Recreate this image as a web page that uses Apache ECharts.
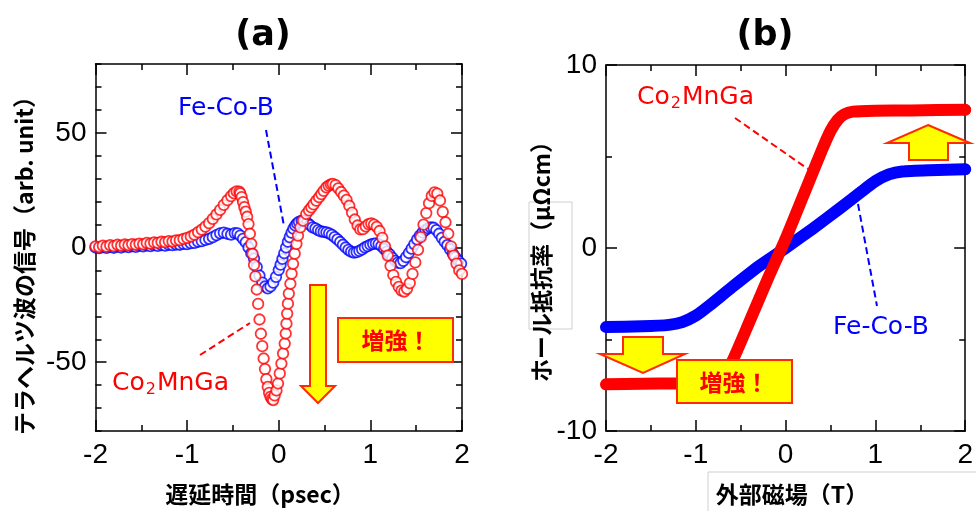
<!DOCTYPE html>
<html>
<head>
<meta charset="utf-8">
<script src="https://cdn.jsdelivr.net/npm/echarts/dist/echarts.min.js"></script>
<style>
html,body{margin:0;padding:0;background:#fff}
#chart{width:976px;height:511px}
</style>
</head>
<body>
<div id="chart"></div>
<script>
// (a) テラヘルツ波の信号 : [遅延時間 psec, 信号 arb. unit]
var feCoB_a = [
  [-2.00,0.0],[-1.96,-0.3],[-1.92,0.2],[-1.88,-0.2],[-1.84,0.3],[-1.80,-0.1],[-1.76,0.4],[-1.72,0.0],
  [-1.68,0.5],[-1.64,0.2],[-1.60,0.6],[-1.56,0.3],[-1.52,0.8],[-1.48,0.5],[-1.44,0.9],[-1.40,0.6],
  [-1.36,1.0],[-1.32,0.7],[-1.28,1.1],[-1.24,0.8],[-1.20,1.2],[-1.16,1.0],[-1.12,1.3],[-1.08,1.2],
  [-1.04,1.6],[-1.00,1.5],[-0.96,1.9],[-0.92,2.0],[-0.88,2.5],[-0.84,2.8],[-0.80,3.3],[-0.76,3.8],
  [-0.72,4.5],[-0.68,5.4],[-0.64,6.2],[-0.60,6.5],[-0.56,6.0],[-0.52,5.6],[-0.48,6.3],[-0.45,6.2],
  [-0.42,5.2],[-0.39,3.8],[-0.36,2.3],[-0.33,0.0],[-0.30,-2.5],[-0.27,-4.8],[-0.24,-8.5],[-0.21,-12.3],
  [-0.18,-15.3],[-0.15,-17.0],[-0.12,-17.8],[-0.09,-17.0],[-0.06,-15.3],[-0.03,-12.8],[0.00,-9.8],
  [0.02,-7.5],[0.04,-5.0],[0.06,-2.5],[0.08,0.0],[0.10,2.5],[0.12,4.5],[0.14,6.5],[0.16,8.2],
  [0.18,9.6],[0.20,10.5],[0.22,11.2],[0.25,11.7],[0.28,11.5],[0.31,10.8],[0.34,9.8],[0.37,8.8],
  [0.40,8.3],[0.43,7.6],[0.46,7.0],[0.49,6.8],[0.52,6.6],[0.55,6.2],[0.58,5.5],[0.61,4.5],
  [0.64,3.5],[0.67,2.4],[0.70,1.2],[0.73,0.0],[0.76,-1.0],[0.79,-1.8],[0.82,-2.2],[0.85,-2.0],
  [0.88,-1.5],[0.91,-0.8],[0.94,0.0],[0.97,0.6],[1.00,1.2],[1.03,1.6],[1.06,1.8],[1.09,1.5],
  [1.12,0.6],[1.15,-0.6],[1.18,-1.8],[1.21,-3.0],[1.24,-4.5],[1.27,-5.8],[1.30,-6.6],[1.33,-6.8],
  [1.36,-5.8],[1.39,-4.2],[1.42,-2.4],[1.45,-0.5],[1.48,1.5],[1.51,3.5],[1.54,5.2],[1.57,6.6],
  [1.60,7.6],[1.63,8.4],[1.66,8.8],[1.69,8.6],[1.72,7.6],[1.75,6.0],[1.78,4.2],[1.81,2.5],
  [1.84,1.0],[1.87,-0.8],[1.90,-2.7],[1.93,-4.3],[1.96,-5.8],[1.99,-7.0]
];
var co2MnGa_a = [
  [-2.00,0.5],[-1.96,0.2],[-1.92,0.8],[-1.88,0.4],[-1.84,1.0],[-1.80,0.6],[-1.76,1.2],[-1.72,0.8],
  [-1.68,1.3],[-1.64,1.0],[-1.60,1.5],[-1.56,1.2],[-1.52,1.7],[-1.48,1.4],[-1.44,2.0],[-1.40,1.7],
  [-1.36,2.2],[-1.32,2.0],[-1.28,2.5],[-1.24,2.3],[-1.20,2.8],[-1.16,2.6],[-1.12,3.1],[-1.08,3.2],
  [-1.04,3.7],[-1.00,4.2],[-0.96,4.8],[-0.92,5.6],[-0.88,6.7],[-0.84,7.8],[-0.80,9.1],[-0.76,10.6],
  [-0.72,12.5],[-0.68,14.4],[-0.64,16.4],[-0.60,18.6],[-0.56,20.6],[-0.52,22.4],[-0.49,23.7],[-0.46,24.5],
  [-0.43,24.3],[-0.42,23.6],[-0.405,22.0],[-0.39,19.8],[-0.375,17.6],[-0.36,15.6],[-0.345,13.4],[-0.33,10.2],
  [-0.315,6.0],[-0.30,1.6],[-0.285,-2.8],[-0.27,-7.6],[-0.255,-12.6],[-0.24,-18.3],[-0.225,-24.6],[-0.21,-31.4],
  [-0.195,-37.6],[-0.18,-43.0],[-0.165,-48.4],[-0.15,-53.0],[-0.135,-57.4],[-0.12,-60.8],[-0.105,-63.4],[-0.09,-65.1],
  [-0.075,-66.1],[-0.06,-66.5],[-0.045,-64.5],[-0.025,-62.3],[-0.008,-59.3],[0.011,-54.9],[0.029,-50.6],[0.047,-46.2],
  [0.065,-41.9],[0.076,-37.5],[0.084,-33.2],[0.092,-28.8],[0.10,-24.5],[0.11,-20.1],[0.127,-15.8],[0.14,-11.4],
  [0.156,-7.1],[0.174,-2.7],[0.193,1.6],[0.21,5.2],[0.236,8.8],[0.265,11.7],[0.30,14.6],[0.33,16.2],
  [0.356,17.5],[0.38,18.8],[0.41,20.4],[0.44,21.9],[0.465,23.3],[0.49,24.7],[0.52,26.2],[0.545,27.0],
  [0.57,27.5],[0.59,27.7],[0.62,27.2],[0.65,25.8],[0.68,24.2],[0.71,22.6],[0.74,20.8],[0.77,18.2],
  [0.80,15.2],[0.83,12.2],[0.86,9.6],[0.89,7.9],[0.92,8.0],[0.95,9.2],[0.98,10.2],[1.01,10.5],
  [1.04,10.0],[1.07,9.0],[1.10,7.2],[1.13,4.2],[1.16,0.5],[1.19,-3.5],[1.22,-8.0],[1.25,-12.0],
  [1.28,-15.0],[1.31,-17.2],[1.34,-18.8],[1.37,-19.2],[1.40,-18.0],[1.43,-15.5],[1.46,-11.5],[1.49,-6.5],
  [1.52,-1.0],[1.55,4.5],[1.58,10.0],[1.61,15.0],[1.64,19.3],[1.67,22.5],[1.70,24.0],[1.73,23.5],
  [1.76,20.5],[1.79,15.5],[1.82,11.0],[1.85,6.0],[1.88,0.5],[1.91,-3.5],[1.94,-7.0],[1.97,-10.0],[2.00,-11.5]
];

// (b) ホール抵抗率 : 外部磁場 (T) / μΩcm
var feCoB_field = [-2, -1.6, -1.3, -1.15, -1.0, -0.85, -0.6, -0.3, 0, 0.3, 0.6, 0.85, 1.0, 1.15, 1.3, 1.6, 2.0];
var feCoB_rho   = [-4.32, -4.28, -4.2, -4.05, -3.7, -3.15, -2.15, -1.0, 0.0, 1.05, 2.15, 3.1, 3.65, 4.02, 4.18, 4.25, 4.3];
var co2MnGa_field = [-2, -1.6, -1.2, -0.95, -0.8, -0.7, -0.6, -0.4, -0.2, 0, 0.2, 0.4, 0.5, 0.58, 0.65, 0.75, 1.0, 1.4, 2.0];
var co2MnGa_rho   = [-7.45, -7.42, -7.4, -7.36, -7.25, -6.95, -6.25, -4.0, -1.7, 0.5, 2.9, 5.3, 6.4, 7.0, 7.3, 7.45, 7.5, 7.52, 7.55];

var xTicks = [-2, -1, 0, 1, 2];
var yMajorA = [-50, 0, 50];

var chart = echarts.init(document.getElementById('chart'));

function pairs(xs, ys) {
  return xs.map(function (x, i) { return [x, ys[i]]; });
}

var BLACK = '#000';
var labelFont = {color: BLACK, fontSize: 28, fontFamily: 'Liberation Sans, Arial, sans-serif'};

function xAx(grid, pos, showLabel) {
  return {
    type: 'value', gridIndex: grid, position: pos,
    min: xTicks[0], max: xTicks[xTicks.length - 1], interval: 1,
    axisLine: {show: true, onZero: false, lineStyle: {color: BLACK, width: 1.5}},
    axisTick: {show: true, inside: true, length: 11, lineStyle: {color: BLACK, width: 1.5}},
    minorTick: {show: true, splitNumber: 2, length: 6, lineStyle: {color: BLACK, width: 1.5}},
    splitLine: {show: false}, minorSplitLine: {show: false},
    axisLabel: Object.assign({show: showLabel, margin: 10}, labelFont)
  };
}

function yAxA(pos, showLabel) {
  return {
    type: 'value', gridIndex: 0, position: pos, min: -80, max: 80, interval: 10,
    axisLine: {show: true, onZero: false, lineStyle: {color: BLACK, width: 1.5}},
    axisTick: {show: true, inside: true, length: 6, lineStyle: {color: BLACK, width: 1.5}},
    splitLine: {show: false},
    axisLabel: Object.assign({
      show: showLabel, margin: 9,
      formatter: function (v) { return yMajorA.indexOf(v) >= 0 ? String(v) : ''; }
    }, labelFont)
  };
}
function yAxAMajor(pos) {
  return {
    type: 'value', gridIndex: 0, position: pos, min: -80, max: 80,
    axisLine: {show: false, onZero: false},
    axisTick: {show: true, inside: true, length: 11, customValues: yMajorA, lineStyle: {color: BLACK, width: 1.5}},
    splitLine: {show: false},
    axisLabel: {show: false}
  };
}
function yAxB(pos, showLabel) {
  return {
    type: 'value', gridIndex: 1, position: pos, min: -10, max: 10, interval: 10,
    axisLine: {show: true, onZero: false, lineStyle: {color: BLACK, width: 1.5}},
    axisTick: {show: true, inside: true, length: 11, lineStyle: {color: BLACK, width: 1.5}},
    minorTick: {show: true, splitNumber: 2, length: 6, lineStyle: {color: BLACK, width: 1.5}},
    splitLine: {show: false}, minorSplitLine: {show: false},
    axisLabel: Object.assign({show: showLabel, margin: 9}, labelFont)
  };
}

var RED = '#ff0000', BLUE = '#0000ff', YEL = '#ffff00', EDGE = '#ff2a00';
var jp = '"Noto Sans CJK JP", sans-serif';
var latin = '"DejaVu Sans", sans-serif';

function txt(x, y, s, font, color, rot) {
  return {type: 'text', x: x, y: y, rotation: rot || 0, z: 100,
    style: {text: s, font: font, fill: color, align: 'center', verticalAlign: 'middle'}};
}
function lbl(x, y, s, color) {
  return {type: 'text', x: x, y: y, z: 100,
    style: {text: s, fill: color, align: 'left', verticalAlign: 'middle',
      rich: {
        n: {fontSize: 25, fontFamily: latin, color: color, lineHeight: 30, verticalAlign: 'middle'},
        s: {fontSize: 16, fontFamily: latin, color: color, lineHeight: 30, verticalAlign: 'bottom', padding: [0, 1, 0, 1]}
      }}};
}
function dash(x1, y1, x2, y2, color) {
  return {type: 'line', z: 100, shape: {x1: x1, y1: y1, x2: x2, y2: y2},
    style: {stroke: color, lineWidth: 2, lineDash: [7, 4]}};
}
function arrow(pts) {
  return {type: 'polygon', z: 100, shape: {points: pts}, style: {fill: YEL, stroke: EDGE, lineWidth: 2}};
}
function box(x, y, w, h) {
  return {type: 'rect', z: 100, shape: {x: x, y: y, width: w, height: h}, style: {fill: YEL, stroke: EDGE, lineWidth: 2}};
}

var redB = pairs(co2MnGa_field, co2MnGa_rho);
var blueB = pairs(feCoB_field, feCoB_rho);
var CO2 = '{n|Co}{s|2}{n|MnGa}';

var option = {
  animation: false,
  backgroundColor: '#fff',
  grid: [
    {left: 95.5, top: 64, width: 366.5, height: 367},
    {left: 606, top: 65, width: 365.7, height: 366}
  ],
  xAxis: [xAx(0, 'bottom', true), xAx(0, 'top', false), xAx(1, 'bottom', true), xAx(1, 'top', false)],
  yAxis: [yAxA('left', true), yAxAMajor('left'), yAxA('right', false), yAxAMajor('right'),
          yAxB('left', true), yAxB('right', false)],
  series: [
    {type: 'scatter', xAxisIndex: 0, yAxisIndex: 0, data: feCoB_a, symbol: 'circle', symbolSize: 10.5,
     itemStyle: {color: '#fff', borderColor: BLUE, borderWidth: 1.8}, emphasis: {disabled: true}},
    {type: 'scatter', xAxisIndex: 0, yAxisIndex: 0, data: co2MnGa_a, symbol: 'circle', symbolSize: 10.5,
     itemStyle: {color: '#fff', borderColor: RED, borderWidth: 1.8}, emphasis: {disabled: true}},
    {type: 'line', xAxisIndex: 2, yAxisIndex: 4, data: blueB, showSymbol: false, smooth: 0.2, clip: false,
     lineStyle: {color: BLUE, width: 12, cap: 'round', join: 'round'}, emphasis: {disabled: true}},
    {type: 'line', xAxisIndex: 2, yAxisIndex: 4, data: redB, showSymbol: false, smooth: 0.2, clip: false,
     lineStyle: {color: RED, width: 12, cap: 'round', join: 'round'}, emphasis: {disabled: true}},
    {type: 'scatter', xAxisIndex: 2, yAxisIndex: 4, data: [blueB[blueB.length - 1]], symbolSize: 10, clip: false,
     itemStyle: {color: '#fff', borderColor: BLUE, borderWidth: 1.5}},
    {type: 'scatter', xAxisIndex: 2, yAxisIndex: 4, data: [redB[redB.length - 1]], symbolSize: 10, clip: false,
     itemStyle: {color: '#fff', borderColor: RED, borderWidth: 1.5}}
  ],
  graphic: [
    // titles
    txt(263, 36, '(a)', 'bold 35px ' + latin, BLACK),
    txt(765, 36, '(b)', 'bold 35px ' + latin, BLACK),
    // axis names
    txt(260, 494, '遅延時間（psec）', 'bold 23px ' + jp, BLACK),
    {type: 'rect', z: 90, shape: {x: 708, y: 472, width: 280, height: 60}, style: {fill: 'none', stroke: '#cfcfcf', lineWidth: 1}},
    txt(792, 494, '外部磁場（T）', 'bold 23px ' + jp, BLACK),
    txt(24, 260, 'テラヘルツ波の信号（arb. unit）', 'bold 23px ' + jp, BLACK, Math.PI / 2),
    {type: 'rect', z: 90, shape: {x: 529, y: 202, width: 43, height: 127}, style: {fill: 'none', stroke: '#cfcfcf', lineWidth: 1}},
    txt(541, 256, 'ホール抵抗率（μΩcm）', 'bold 23px ' + jp, BLACK, Math.PI / 2),
    // (a) annotations
    lbl(178, 108, '{n|Fe-Co-B}', BLUE),
    dash(266, 130, 284, 226, BLUE),
    lbl(112, 383, CO2, RED),
    dash(200, 355, 250, 323, RED),
    arrow([[310, 285], [326, 285], [326, 386], [335, 386], [318, 403], [301, 386], [310, 386]]),
    box(338, 318, 115, 44),
    txt(396, 340, '増強！', 'bold 23px ' + jp, RED),
    // (b) annotations
    lbl(637, 97, CO2, RED),
    dash(735, 118, 808, 169, RED),
    lbl(833, 327, '{n|Fe-Co-B}', BLUE),
    dash(858, 204, 877, 306, BLUE),
    arrow([[928, 125], [970, 143], [948, 143], [948, 160], [909, 160], [909, 143], [887, 143]]),
    arrow([[623, 337], [663, 337], [663, 354], [685, 354], [643, 373], [600, 354], [623, 354]]),
    box(677, 360, 115, 43),
    txt(734, 382, '増強！', 'bold 23px ' + jp, RED)
  ]
};
chart.setOption(option);
</script>
</body>
</html>
